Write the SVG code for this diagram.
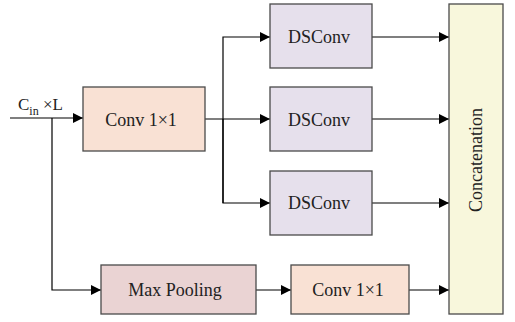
<svg xmlns="http://www.w3.org/2000/svg" width="515" height="322" viewBox="0 0 515 322">
<style>
.box{stroke:#4a4a4a;stroke-width:1.3}
text{font-family:'Liberation Serif','Times New Roman','DejaVu Serif',serif}
.t{font-size:18px;fill:#222;text-anchor:middle;dominant-baseline:central}
.ln{stroke:#000;stroke-width:1.2;fill:none}
</style>
<defs>
<marker id="ah" viewBox="0 0 10 10" refX="10" refY="5" markerWidth="13" markerHeight="10" markerUnits="userSpaceOnUse" orient="auto"><path d="M0,0L10,5L0,10z" fill="#000"/></marker>
</defs>
<rect width="515" height="322" fill="#fff"/>
<g id="connectors">
<path class="ln" d="M10,118H83" marker-end="url(#ah)"/>
<path class="ln" d="M52,118V290H101" marker-end="url(#ah)"/>
<path class="ln" d="M205,119H270" marker-end="url(#ah)"/>
<path class="ln" d="M223,203V37H270" marker-end="url(#ah)"/>
<path class="ln" d="M223,119V203H270" marker-end="url(#ah)"/>
<path class="ln" d="M372,37H449" marker-end="url(#ah)"/>
<path class="ln" d="M372,119H449" marker-end="url(#ah)"/>
<path class="ln" d="M372,203H449" marker-end="url(#ah)"/>
<path class="ln" d="M256,290H291" marker-end="url(#ah)"/>
<path class="ln" d="M409,290H449" marker-end="url(#ah)"/>
</g>
<g id="input-label">
<text x="18" y="110" font-family="Liberation Serif, serif" font-size="17" fill="#222">C<tspan font-size="12" dy="5">in</tspan><tspan dy="-5"> ×L</tspan></text>
</g>
<g id="conv1">
<rect class="box" x="83" y="87" width="122" height="64" fill="#f9e1d4"/>
<text class="t" x="141" y="120" font-family="Liberation Serif, serif">Conv 1×1</text>
</g>
<g id="dsconv1">
<rect class="box" x="270" y="4" width="102" height="64" fill="#e6e0ec"/>
<text class="t" x="319" y="37" font-family="Liberation Serif, serif">DSConv</text>
</g>
<g id="dsconv2">
<rect class="box" x="270" y="87" width="102" height="64" fill="#e6e0ec"/>
<text class="t" x="319" y="120" font-family="Liberation Serif, serif">DSConv</text>
</g>
<g id="dsconv3">
<rect class="box" x="270" y="171" width="102" height="64" fill="#e6e0ec"/>
<text class="t" x="319" y="203" font-family="Liberation Serif, serif">DSConv</text>
</g>
<g id="maxpool">
<rect class="box" x="101" y="265" width="155" height="49" fill="#ead3d3"/>
<text class="t" x="175" y="290" font-family="Liberation Serif, serif">Max Pooling</text>
</g>
<g id="conv2">
<rect class="box" x="291" y="265" width="118" height="49" fill="#f9e1d4"/>
<text class="t" x="348" y="290" font-family="Liberation Serif, serif">Conv 1×1</text>
</g>
<g id="concat">
<rect class="box" x="449" y="4" width="54" height="310" fill="#f8f7dc"/>
<text class="t" x="476" y="160" transform="rotate(-90 476 160)" font-family="Liberation Serif, serif">Concatenation</text>
</g>
</svg>
